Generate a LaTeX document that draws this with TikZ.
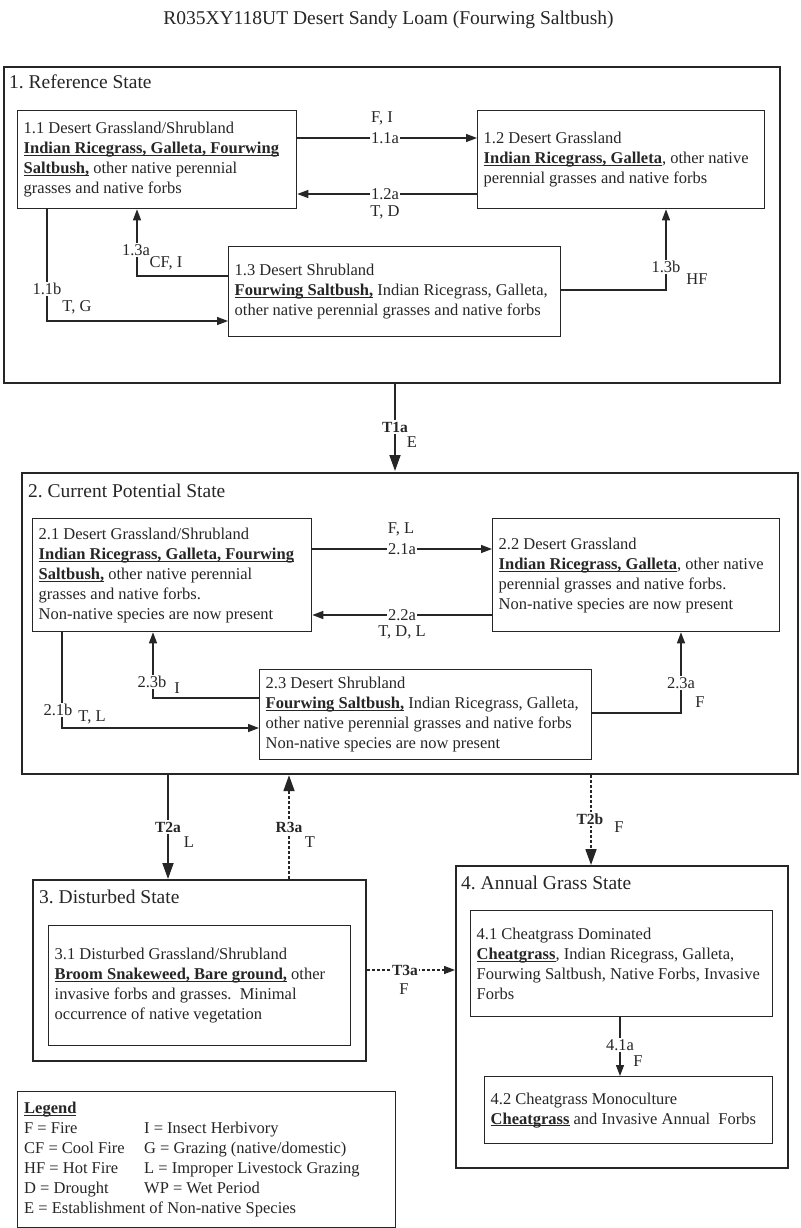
\documentclass[tikz,border=0pt]{standalone}
\usepackage{fontspec}
\setmainfont{Liberation Serif}
\usetikzlibrary{arrows.meta}
\frenchspacing
\definecolor{ink}{HTML}{262626}
\newcommand\bodyfont{\fontsize{16.5}{20}\selectfont}
\newcommand\tlabfont{\fontsize{15.5}{18}\selectfont\bfseries}
\newcommand\headfont{\fontsize{19.5}{23}\selectfont}
\newsavebox\ubbox
\newcommand\ub[1]{\sbox\ubbox{\textbf{#1}}\usebox\ubbox\llap{\rule[-2.4pt]{\wd\ubbox}{1pt}}}
\tikzset{
  statebox/.style={draw=ink, line width=2.2pt, anchor=north west, inner sep=0pt},
  cbox/.style={draw=ink, line width=1.3pt, anchor=north west, inner sep=0pt},
  txt/.style={anchor=west, align=left, inner sep=0pt, font=\bodyfont, text=ink},
  head/.style={anchor=base west, inner sep=0pt, font=\headfont, text=ink},
  lab/.style={inner sep=1pt, font=\bodyfont, text=ink},
  labw/.style={lab, fill=white},
  tlab/.style={inner sep=1.5pt, fill=white, font=\tlabfont, text=ink},
  arr/.style={draw=ink, line width=1.3pt, -{Triangle[length=11pt,width=8pt]}},
  bigarr/.style={draw=ink, line width=1.8pt, -{Triangle[length=16pt,width=11pt]}},
  dsh/.style={dash pattern=on 3pt off 2pt}
}
\begin{document}
\begin{tikzpicture}[x=1pt,y=-1pt]
\useasboundingbox[fill=white] (0,0) rectangle (800,1228);
\node[anchor=base, inner sep=0pt, font=\headfont, text=ink] (title) at (388.5,25) {R035XY118UT Desert Sandy Loam (Fourwing Saltbush)};

% State 1
\node[statebox, minimum width=776pt, minimum height=316pt] (s1) at (3,66) {};
\node[head] (s1t) at (9,89) {1. Reference State};
\node[cbox, minimum width=279pt, minimum height=98pt] (b11) at (17,110) {};
\node[txt] (t11) at ([xshift=6.5pt]b11.west) {1.1 Desert Grassland/Shrubland\\ \ub{Indian Ricegrass, Galleta, Fourwing}\\ \ub{Saltbush,} other native perennial\\ grasses and native forbs};
\node[cbox, minimum width=287pt, minimum height=98pt] (b12) at (477,110) {};
\node[txt] (t12) at ([xshift=6.5pt]b12.west) {1.2 Desert Grassland\\ \ub{Indian Ricegrass, Galleta}, other native\\ perennial grasses and native forbs};
\node[cbox, minimum width=332pt, minimum height=90pt] (b13) at (228,246) {};
\node[txt] (t13) at ([xshift=6.5pt]b13.west) {1.3 Desert Shrubland\\ \ub{Fourwing Saltbush,} Indian Ricegrass, Galleta,\\ other native perennial grasses and native forbs};

\draw[arr] (b11.east |- 0,138) -- (b12.west |- 0,138);
\node[labw] (l11a) at (385,138) {1.1a};
\node[lab] (l11ac) at (382,118) {F, I};
\draw[arr] (b12.west |- 0,194) -- (b11.east |- 0,194);
\node[labw] (l12a) at (385,194) {1.2a};
\node[lab] (l12ac) at (385,212) {T, D};
\draw[arr] (b11.south -| 47,0) |- (b13.west |- 0,321);
\node[labw] (l11b) at (47,289) {1.1b};
\node[lab] (l11bc) at (77,307) {T, G};
\draw[arr] (b13.west |- 0,276) -| (b11.south -| 137,0);
\node[labw] (l13a) at (136,250) {1.3a};
\node[lab] (l13ac) at (166,263) {CF, I};
\draw[arr] (b13.east |- 0,290) -| (b12.south -| 666,0);
\node[labw] (l13b) at (666,267) {1.3b};
\node[lab] (l13bc) at (697,279) {HF};

% T1a
\draw[bigarr] (s1.south -| 395,0) -- (395,471);
\node[tlab] (t1a) at (395,427) {T1a};
\node[lab] (t1ac) at (412,442) {E};

% State 2
\node[statebox, minimum width=776pt, minimum height=301pt] (s2) at (21,472) {};
\node[head] (s2t) at (28,497) {2. Current Potential State};
\node[cbox, minimum width=279pt, minimum height=113pt] (b21) at (32,518) {};
\node[txt] (t21) at ([xshift=6.5pt]b21.west) {2.1 Desert Grassland/Shrubland\\ \ub{Indian Ricegrass, Galleta, Fourwing}\\ \ub{Saltbush,} other native perennial\\ grasses and native forbs.\\ Non-native species are now present};
\node[cbox, minimum width=287pt, minimum height=113pt] (b22) at (492,518) {};
\node[txt] (t22) at ([xshift=6.5pt]b22.west) {2.2 Desert Grassland\\ \ub{Indian Ricegrass, Galleta}, other native\\ perennial grasses and native forbs.\\ Non-native species are now present};
\node[cbox, minimum width=332pt, minimum height=90pt] (b23) at (259,669) {};
\node[txt] (t23) at ([xshift=6.5pt]b23.west) {2.3 Desert Shrubland\\ \ub{Fourwing Saltbush,} Indian Ricegrass, Galleta,\\ other native perennial grasses and native forbs\\ Non-native species are now present};

\draw[arr] (b21.east |- 0,549) -- (b22.west |- 0,549);
\node[labw] (l21a) at (402,549) {2.1a};
\node[lab] (l21ac) at (401,529) {F, L};
\draw[arr] (b22.west |- 0,615) -- (b21.east |- 0,615);
\node[labw] (l22a) at (402,615) {2.2a};
\node[lab] (l22ac) at (402,632) {T, D, L};
\draw[arr] (b21.south -| 62,0) |- (b23.west |- 0,728);
\node[labw] (l21b) at (58,710) {2.1b};
\node[lab] (l21bc) at (92,717) {T, L};
\draw[arr] (b23.west |- 0,698) -| (b21.south -| 153,0);
\node[labw] (l23b) at (152,682) {2.3b};
\node[lab] (l23bc) at (177,688) {I};
\draw[arr] (b23.east |- 0,713) -| (b22.south -| 681,0);
\node[labw] (l23a) at (681,683) {2.3a};
\node[lab] (l23ac) at (700,702) {F};

% State 3
\node[statebox, minimum width=333pt, minimum height=181pt] (s3) at (32,879) {};
\node[head] (s3t) at (39,903) {3. Disturbed State};
\node[cbox, minimum width=302pt, minimum height=120pt] (b31) at (48,925) {};
\node[txt] (t31) at ([xshift=6.5pt]b31.west) {3.1 Disturbed Grassland/Shrubland\\ \ub{Broom Snakeweed, Bare ground,} other\\ invasive forbs and grasses.\ \ Minimal\\ occurrence of native vegetation};

% State 4
\node[statebox, minimum width=332pt, minimum height=302pt] (s4) at (455,865) {};
\node[head] (s4t) at (461,889) {4. Annual Grass State};
\node[cbox, minimum width=302pt, minimum height=106pt] (b41) at (470,910) {};
\node[txt] (t41) at ([xshift=6.5pt]b41.west) {4.1 Cheatgrass Dominated\\ \ub{Cheatgrass}, Indian Ricegrass, Galleta,\\ Fourwing Saltbush, Native Forbs, Invasive\\ Forbs};
\node[cbox, minimum width=288pt, minimum height=67pt] (b42) at (484,1076) {};
\node[txt] (t42) at ([xshift=6.5pt]b42.west) {4.2 Cheatgrass Monoculture\\ \ub{Cheatgrass} and Invasive Annual\ \ Forbs};

\draw[arr] (b41.south -| 620,0) -- (b42.north -| 620,0);
\node[labw] (l41a) at (620,1045) {4.1a};
\node[lab] (l41ac) at (638,1061) {F};

% Transitions between states
\draw[bigarr] (s2.south -| 168,0) -- (s3.north -| 168,0);
\node[tlab] (t2a) at (168,827) {T2a};
\node[lab] (t2ac) at (189,842) {L};
\draw[bigarr, dsh] (s3.north -| 289,0) -- (s2.south -| 289,0);
\node[tlab] (r3a) at (289,827) {R3a};
\node[lab] (r3ac) at (310,842) {T};
\draw[bigarr, dsh] (s2.south -| 591,0) -- (s4.north -| 591,0);
\node[tlab] (t2b) at (590,819) {T2b};
\node[lab] (t2bc) at (619,827) {F};
\draw[arr, dsh] (s3.east |- 0,970) -- (s4.west |- 0,970);
\node[tlab] (t3a) at (405,970) {T3a};
\node[lab] (t3ac) at (404,989) {F};

% Legend
\node[cbox, minimum width=378pt, minimum height=136pt] (lg) at (17,1091) {};
\node[txt] (lgt) at ([xshift=7pt]lg.west) {\ub{Legend}\\
\makebox[120pt][l]{F = Fire}I = Insect Herbivory\\
\makebox[120pt][l]{CF = Cool Fire}G = Grazing (native/domestic)\\
\makebox[120pt][l]{HF = Hot Fire}L = Improper Livestock Grazing\\
\makebox[120pt][l]{D = Drought}WP = Wet Period\\
E = Establishment of Non-native Species};
\end{tikzpicture}
\end{document}
